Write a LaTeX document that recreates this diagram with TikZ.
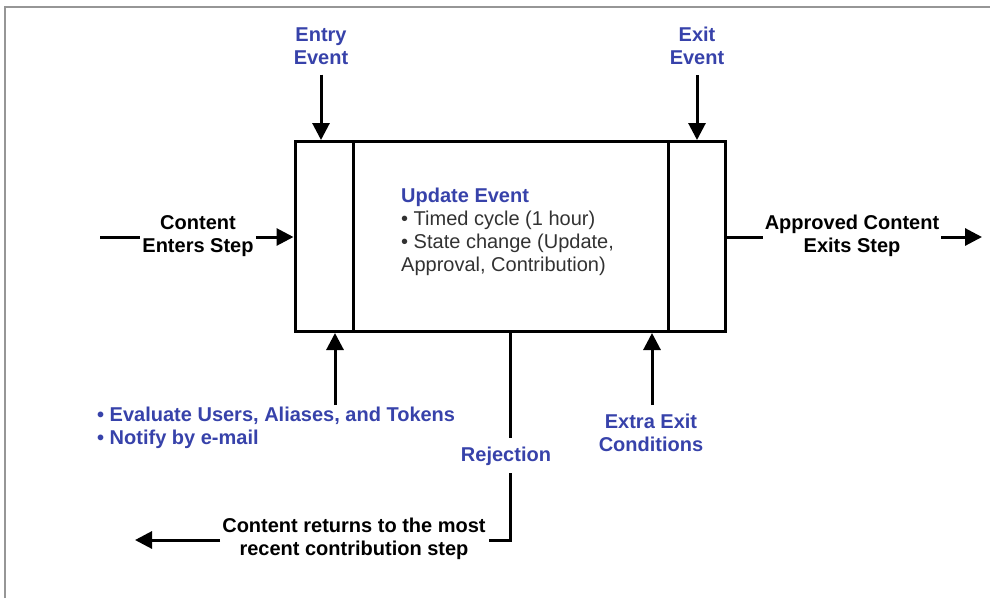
\documentclass[tikz,border=0pt]{standalone}
\usepackage{fontspec}
\setmainfont{Liberation Sans}
\usetikzlibrary{arrows.meta}
\definecolor{lblblue}{RGB}{55,66,170}
\definecolor{bodygray}{RGB}{50,50,50}
\definecolor{framegray}{RGB}{150,150,150}
\begin{document}
\begin{tikzpicture}[x=1pt,y=-1pt,
  lbl/.style={font=\fontsize{20}{23}\selectfont\bfseries, align=center, inner sep=2pt},
  bluelbl/.style={lbl, text=lblblue},
  ln/.style={line width=3pt},
  arr/.style={line width=3pt, -{Triangle[width=17pt,length=17pt]}},
  cell/.style={draw, line width=3pt, minimum height=190pt, inner sep=0pt}
]
\useasboundingbox (0,0) rectangle (990,598);
\draw[framegray, line width=1.5pt] (5,598) -- (5,7) -- (990,7);

% main box
\node[cell, minimum width=58pt] (entrycell) at (324,236.5) {};
\node[cell, minimum width=315pt] (midcell) at (510.5,236.5) {};
\node[cell, minimum width=57pt] (exitcell) at (696.5,236.5) {};

% top labels
\node[bluelbl] (entrylbl) at (321,46) {Entry\\Event};
\node[bluelbl] (exitlbl) at (697,46) {Exit\\Event};
\draw[arr, shorten <=8pt] (entrylbl.south) -- (entrylbl.south |- entrycell.north);
\draw[arr, shorten <=8pt] (exitlbl.south) -- (exitlbl.south |- exitcell.north);

% update event text
\node[anchor=north west, align=left, inner sep=0pt,
      font=\fontsize{20}{23}\selectfont, text=bodygray] (upd) at (401,188)
  {{\color{lblblue}\bfseries Update Event}\\%
   • Timed cycle (1 hour)\\%
   • State change (Update,\\%
   Approval, Contribution)};

% input
\node[lbl] (enters) at (198,236) {Content\\Enters Step};
\coordinate (instart) at (100,237);
\draw[ln] (instart) -- (instart -| enters.west);
\draw[arr] (enters.east |- instart) -- (entrycell.west |- instart);

% output
\node[lbl] (approved) at (852,236) {Approved Content\\Exits Step};
\coordinate (outend) at (982,237);
\draw[ln] (exitcell.east |- outend) -- (approved.west |- outend);
\draw[arr] (approved.east |- outend) -- (outend);

% bottom left
\node[bluelbl, align=left, anchor=west] (evallbl) at (95,428)
  {• Evaluate Users, Aliases, and Tokens\\• Notify by e-mail};
\coordinate (evaltop) at (335,405);
\draw[arr] (evaltop) -- (evaltop |- entrycell.south);

% extra exit
\node[bluelbl] (extralbl) at (651,433) {Extra Exit\\Conditions};
\coordinate (extratop) at (652,405);
\draw[arr] (extratop) -- (extratop |- midcell.south);

% rejection
\node[bluelbl] (rej) at (506,456) {Rejection};
\coordinate (rejbend) at (510,540);
\node[lbl] (ret) at (354,539) {Content returns to the most\\recent contribution step};
\draw[ln] (rejbend |- midcell.south) -- (rejbend |- 0,438);
\draw[ln] (rejbend |- 0,473) -- (rejbend) -- (489,540);
\coordinate (retend) at (135,540);
\draw[arr] (ret.west |- retend) -- (retend);
\end{tikzpicture}
\end{document}
